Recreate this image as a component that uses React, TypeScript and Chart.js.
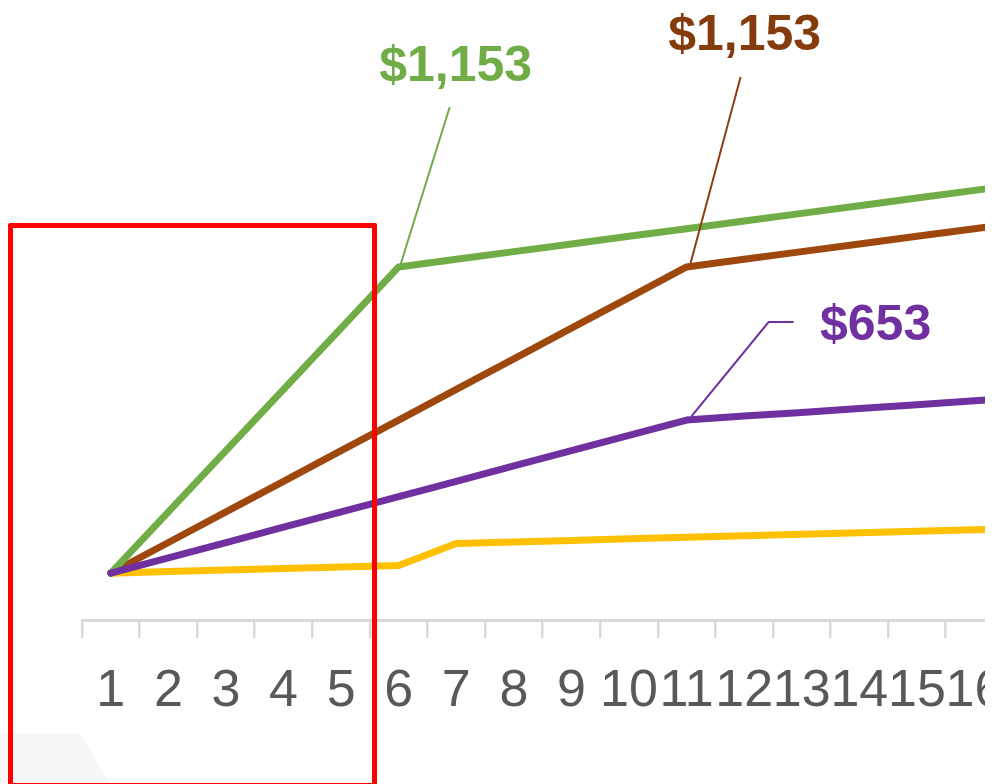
import { useEffect, useRef } from 'react';
import { Chart, registerables } from 'chart.js';

Chart.register(...registerables);

// ---- data ----
const periods = ['1', '2', '3', '4', '5', '6', '7', '8', '9', '10', '11', '12', '13', '14', '15', '16', '17'];
const greenSeries = [153, 353, 553, 753, 953, 1153, 1178, 1203, 1228, 1253, 1278, 1303, 1328, 1353, 1378, 1403, 1428];
const brownSeries = [153, 253, 353, 453, 553, 653, 753, 853, 953, 1053, 1153, 1178, 1203, 1228, 1253, 1278, 1303];
const purpleSeries = [153, 203, 253, 303, 353, 403, 453, 503, 553, 603, 653, 666, 678, 691, 703, 716, 728];
const yellowSeries = [153, 158, 163, 168, 173, 178, 250, 255, 260, 265, 270, 275, 280, 285, 290, 295, 300];
const calloutLabels = ['$1,153', '$1,153', '$653'];
const calloutPoints = [5, 10, 10]; // category index of each callout

const GREEN = '#70AD47';
const BROWN = '#9E480E';
const PURPLE = '#7030A0';
const YELLOW = '#FFC000';

type Callout = {
  datasetIndex: number;
  index: number;
  text: string;
  color: string;
  lineColor: string;
  path: [number, number][];
  textDx: number;
  textDy: number;
};

const callouts: Callout[] = [
  {
    datasetIndex: 1, index: calloutPoints[0], text: calloutLabels[0], color: GREEN, lineColor: GREEN,
    path: [[2, -3], [51, -160]], textDx: 57, textDy: -200,
  },
  {
    datasetIndex: 2, index: calloutPoints[1], text: calloutLabels[1], color: '#843C0C', lineColor: '#8B3F10',
    path: [[4, -4], [54, -190]], textDx: 58, textDy: -231,
  },
  {
    datasetIndex: 0, index: calloutPoints[2], text: calloutLabels[2], color: PURPLE, lineColor: PURPLE,
    path: [[5, -4], [82, -98], [107, -98]], textDx: 189, textDy: -94,
  },
];

const calloutPlugin = {
  id: 'callouts',
  afterDatasetsDraw(chart: any) {
    const ctx = chart.ctx as CanvasRenderingContext2D;
    ctx.save();
    for (const c of callouts) {
      const pt = chart.getDatasetMeta(c.datasetIndex).data[c.index];
      const px = pt.x;
      const py = pt.y;
      ctx.beginPath();
      ctx.strokeStyle = c.lineColor;
      ctx.lineWidth = 2;
      c.path.forEach(([dx, dy], i) => {
        if (i === 0) ctx.moveTo(px + dx, py + dy);
        else ctx.lineTo(px + dx, py + dy);
      });
      ctx.stroke();
      ctx.fillStyle = c.color;
      ctx.font = 'bold 50px "Liberation Sans", Arial, sans-serif';
      ctx.textAlign = 'center';
      ctx.textBaseline = 'middle';
      ctx.fillText(c.text, px + c.textDx, py + c.textDy);
    }
    ctx.restore();
  },
};

function LineChart() {
  const ref = useRef<HTMLCanvasElement | null>(null);
  useEffect(() => {
    if (!ref.current) return;
    const lineStyle = {
      borderWidth: 7,
      pointRadius: 0,
      tension: 0,
      borderCapStyle: 'round' as const,
      borderJoinStyle: 'round' as const,
      fill: false,
    };
    const chart = new Chart(ref.current, {
      type: 'line',
      data: {
        labels: periods,
        datasets: [
          { label: 'Purple', data: purpleSeries, borderColor: PURPLE, ...lineStyle },
          { label: 'Green', data: greenSeries, borderColor: GREEN, ...lineStyle },
          { label: 'Brown', data: brownSeries, borderColor: BROWN, ...lineStyle },
          { label: 'Yellow', data: yellowSeries, borderColor: YELLOW, ...lineStyle },
        ],
      },
      options: {
        responsive: false,
        animation: false,
        devicePixelRatio: 1,
        layout: { padding: { left: 82, right: 0, top: 7.6, bottom: 0 } },
        plugins: {
          legend: { display: false },
          tooltip: { enabled: false },
          title: { display: false },
        },
        scales: {
          x: {
            type: 'category',
            offset: true,
            afterFit: (scale: any) => {
              scale.height = 164;
            },
            grid: {
              display: true,
              drawOnChartArea: false,
              drawTicks: true,
              tickLength: 18,
              color: '#D9D9D9',
              lineWidth: 2.5,
              offset: true,
            },
            border: { display: true, color: '#D9D9D9', width: 3 },
            ticks: {
              autoSkip: false,
              maxRotation: 0,
              minRotation: 0,
              padding: 22,
              color: '#595959',
              font: { family: '"Liberation Sans", Arial, sans-serif', size: 52 },
            },
          },
          y: {
            display: false,
            min: 0,
            max: 2000,
          },
        },
      },
      plugins: [calloutPlugin],
    });
    return () => chart.destroy();
  }, []);
  return (
    <canvas
      ref={ref}
      width={1083}
      height={784}
      style={{ position: 'absolute', left: 0, top: 0, width: 1083, height: 784 }}
    />
  );
}

export default function App() {
  return (
    <div
      style={{
        position: 'fixed',
        left: 0,
        top: 0,
        width: 985,
        height: 784,
        overflow: 'hidden',
        background: '#ffffff',
      }}
    >
      <div
        style={{
          position: 'absolute',
          left: 0,
          top: 733,
          width: 110,
          height: 51,
          background: '#F7F7F7',
          clipPath: 'polygon(0 0, 80px 0, 110px 100%, 0 100%)',
        }}
      />
      <LineChart />
      <div
        style={{
          position: 'absolute',
          left: 8,
          top: 223,
          width: 369,
          height: 565,
          boxSizing: 'border-box',
          border: '5px solid #FF0000',
          borderRadius: 2,
        }}
      />
    </div>
  );
}
